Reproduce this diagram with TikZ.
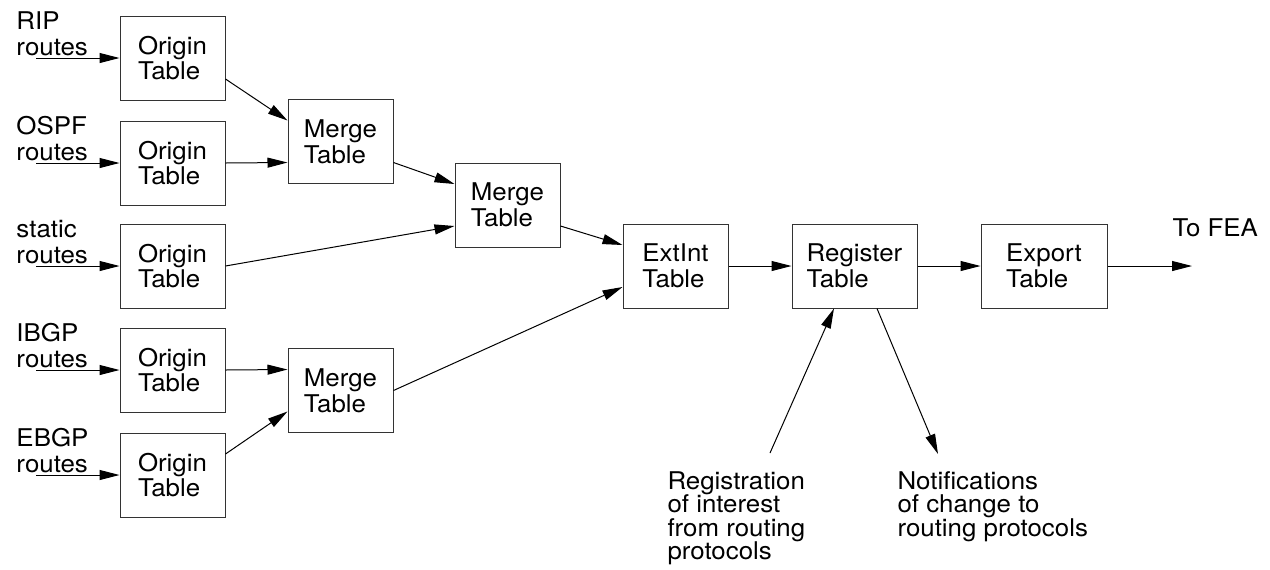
\documentclass[tikz,border=0pt]{standalone}
\usepackage{fontspec}
\setmainfont[FakeStretch=1.06]{TeX Gyre Heros}
\usetikzlibrary{arrows.meta,calc}
\begin{document}
\begin{tikzpicture}[x=0.5pt,y=-0.5pt,>={Triangle[length=10pt,width=5pt]},line width=0.5pt,
	font=\fontsize{12.2}{12.9}\selectfont,
	tablebox/.style={draw=black!80,minimum width=52.5pt,minimum height=42pt,align=left,inner sep=0pt},
	lbl/.style={align=left,inner sep=0pt},
	note/.style={lbl,anchor=north west,font=\fontsize{12.2}{11.7}\selectfont}]
	\useasboundingbox (0,0) rectangle (1270,569);
	% origin tables with their route sources
	\foreach \n/\y/\src in {1/58/RIP,2/163/OSPF,3/266/static,4/370/IBGP,5/475/EBGP}{
		\node[tablebox] (o\n) at (172.5,\y) {Origin\\Table};
		\coordinate (in\n) at (36,\y);
		\node[lbl,anchor=south west] (src\n) at (16,\y-2) {\src\\routes};
		\draw[->] (in\n) -- (o\n);
	}
	% merge, extint, register and export tables
	\node[tablebox] (m1) at (340.5,141.5) {Merge\\Table};
	\node[tablebox] (m2) at (507.5,205) {Merge\\Table};
	\node[tablebox] (m3) at (340.5,390.5) {Merge\\Table};
	\node[tablebox] (ext) at (675.5,266) {ExtInt\\Table};
	\node[tablebox,minimum width=62.5pt] (reg) at (854.5,266) {Register\\Table};
	\node[tablebox,minimum width=63pt] (exp) at (1044,266) {Export\\Table};
	\draw[->] ($(o1.east)+(0,21)$) -- ($(m1.west)+(0,-21)$);
	\draw[->] (o2.east) -- ($(m1.west)+(0,21)$);
	\draw[->] ($(m1.east)+(0,21)$) -- ($(m2.west)+(0,-21)$);
	\draw[->] (o3.east) -- ($(m2.west)+(0,21)$);
	\draw[->] ($(m2.east)+(0,21)$) -- ($(ext.west)+(0,-21)$);
	\draw[->] (m3.east) -- ($(ext.west)+(0,21)$);
	\draw[->] (o4.east) -- ($(m3.west)+(0,-21)$);
	\draw[->] ($(o5.east)+(0,-21)$) -- ($(m3.west)+(0,21)$);
	\draw[->] (ext) -- (reg);
	\draw[->] (reg) -- (exp);
	\coordinate (fea) at (1192,266);
	\draw[->] (exp) -- (fea);
	\node[lbl,anchor=south west] (tofea) at (1172,237) {To FEA};
	% registration and notifications
	\coordinate (regin) at (770,453);
	\coordinate (notout) at (938,454);
	\draw[->] (regin) -- ($(reg.south)+(-20.5,0)$);
	\draw[->] ($(reg.south)+(22.5,0)$) -- (notout);
	\node[note] (reginfo) at (667,471) {Registration\\of interest\\from routing\\protocols};
	\node[note] (notinfo) at (897,471) {Notifications\\of change to\\routing protocols};
\end{tikzpicture}
\end{document}
